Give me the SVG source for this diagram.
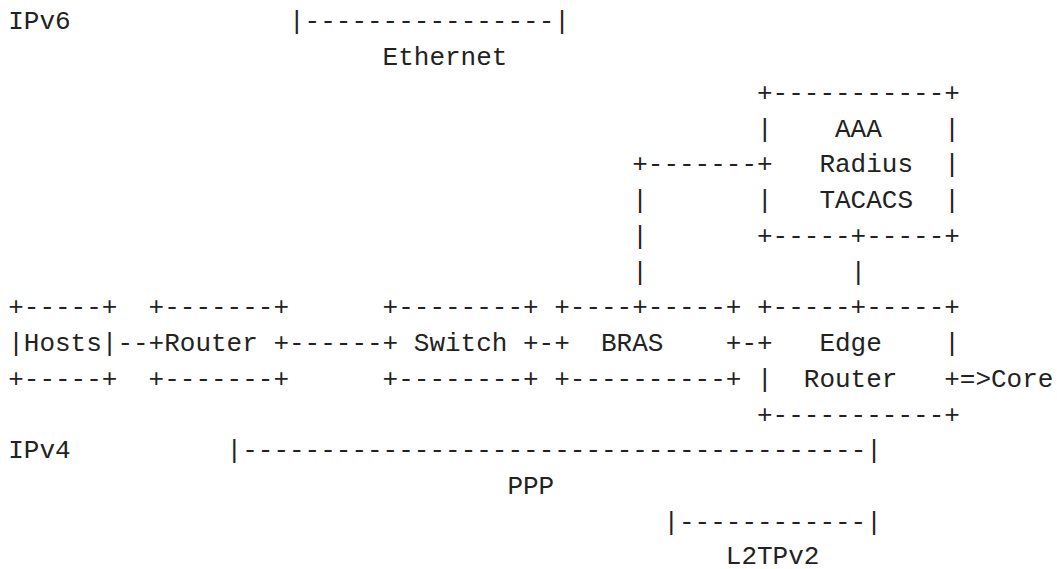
<svg xmlns="http://www.w3.org/2000/svg" width="1057" height="569" viewBox="0 0 1057 569">
<style>
text{font-family:"Liberation Mono","DejaVu Sans Mono",monospace;font-size:26px;fill:#222;white-space:pre}
</style>
<rect width="1057" height="569" fill="#fff"/>
<g id="legend">
<text x="8.2" y="29.4">IPv6</text>
<text x="289" y="29.4">|----------------|</text>
<text x="382.6" y="65.15">Ethernet</text>
<text x="8.2" y="458.4">IPv4</text>
<text x="226.6" y="458.4">|----------------------------------------|</text>
<text x="507.4" y="494.15">PPP</text>
<text x="663.4" y="529.9">|------------|</text>
<text x="725.8" y="564">L2TPv2</text>
</g>
<g id="connectors">
<text x="117.4" y="351.15">--</text>
<text x="289" y="351.15">------</text>
<text x="538.6" y="351.15">-</text>
<text x="741.4" y="351.15">-</text>
<text x="632.2" y="172.4">+-------</text>
<text x="632.2" y="208.15">|</text>
<text x="632.2" y="243.9">|</text>
<text x="632.2" y="279.65">|</text>
<text x="850.6" y="279.65">|</text>
<text x="959.8" y="386.9">=&gt;</text>
</g>
<g id="hosts">
<text x="8.2" y="315.4">+-----+</text>
<text x="8.2" y="351.15">|Hosts|</text>
<text x="8.2" y="386.9">+-----+</text>
</g>
<g id="router">
<text x="148.6" y="315.4">+-------+</text>
<text x="148.6" y="351.15">+Router +</text>
<text x="148.6" y="386.9">+-------+</text>
</g>
<g id="switch">
<text x="382.6" y="315.4">+--------+</text>
<text x="382.6" y="351.15">+ Switch +</text>
<text x="382.6" y="386.9">+--------+</text>
</g>
<g id="bras">
<text x="554.2" y="315.4">+----+-----+</text>
<text x="554.2" y="351.15">+  BRAS    +</text>
<text x="554.2" y="386.9">+----------+</text>
</g>
<g id="edge-router">
<text x="757" y="315.4">+-----+-----+</text>
<text x="757" y="351.15">+   Edge    |</text>
<text x="757" y="386.9">|  Router   +</text>
<text x="757" y="422.65">+-----------+</text>
</g>
<g id="aaa">
<text x="757" y="100.9">+-----------+</text>
<text x="757" y="136.65">|    AAA    |</text>
<text x="757" y="172.4">+   Radius  |</text>
<text x="757" y="208.15">|   TACACS  |</text>
<text x="757" y="243.9">+-----+-----+</text>
</g>
<g id="core">
<text x="991" y="386.9">Core</text>
</g>
</svg>
